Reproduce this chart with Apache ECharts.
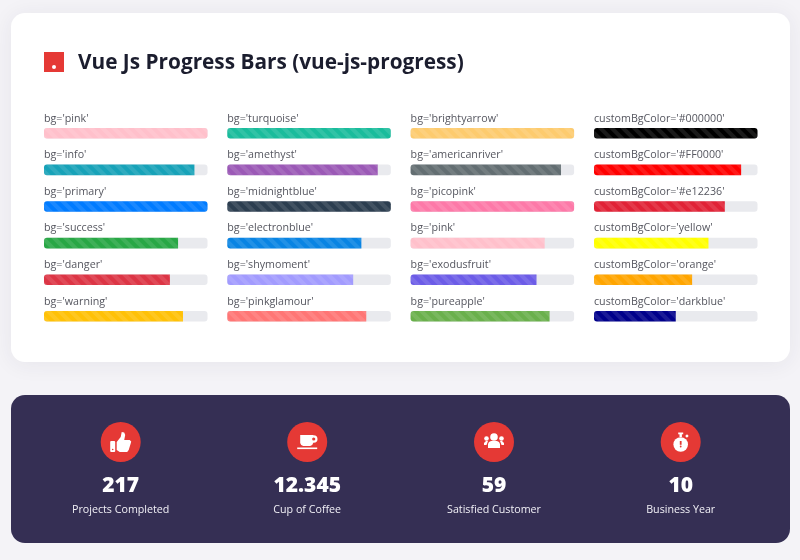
<!DOCTYPE html>
<html>
<head>
<meta charset="utf-8">
<style>
  html, body { margin: 0; padding: 0; background: #f4f3f7; }
  #main { width: 800px; height: 560px; }
</style>
<script src="https://cdn.jsdelivr.net/npm/echarts@6/dist/echarts.min.js"></script>
</head>
<body>
<div id="main"></div>
<script>
var titleText = 'Vue Js Progress Bars (vue-js-progress)';

var col1Labels = ["bg='pink'", "bg='info'", "bg='primary'", "bg='success'", "bg='danger'", "bg='warning'"];
var col1Values = [100, 92, 100, 82, 77, 85];
var col1Colors = ['#ffc0cb', '#17a2b8', '#007bff', '#28a745', '#dc3545', '#ffc107'];

var col2Labels = ["bg='turquoise'", "bg='amethyst'", "bg='midnightblue'", "bg='electronblue'", "bg='shymoment'", "bg='pinkglamour'"];
var col2Values = [100, 92, 100, 82, 77, 85];
var col2Colors = ['#1abc9c', '#9b59b6', '#2c3e50', '#0984e3', '#a29bfe', '#ff7675'];

var col3Labels = ["bg='brightyarrow'", "bg='americanriver'", "bg='picopink'", "bg='pink'", "bg='exodusfruit'", "bg='pureapple'"];
var col3Values = [100, 92, 100, 82, 77, 85];
var col3Colors = ['#fdcb6e', '#636e72', '#fd79a8', '#ffc0cb', '#6c5ce7', '#6ab04c'];

var col4Labels = ["customBgColor='#000000'", "customBgColor='#FF0000'", "customBgColor='#e12236'", "customBgColor='yellow'", "customBgColor='orange'", "customBgColor='darkblue'"];
var col4Values = [100, 90, 80, 70, 60, 50];
var col4Colors = ['#000000', '#ff0000', '#e12236', '#ffff00', '#ffa500', '#00008b'];

var statValues = ['217', '12.345', '59', '10'];
var statLabels = ['Projects Completed', 'Cup of Coffee', 'Satisfied Customer', 'Business Year'];

var FONT = '"Open Sans", sans-serif';
var RED = '#e53935';
var columns = [
  {left: 44, labels: col1Labels, values: col1Values, colors: col1Colors},
  {left: 227.3, labels: col2Labels, values: col2Values, colors: col2Colors},
  {left: 410.6, labels: col3Labels, values: col3Values, colors: col3Colors},
  {left: 594, labels: col4Labels, values: col4Values, colors: col4Colors}
];

var grids = [], xAxes = [], yAxes = [], series = [];
columns.forEach(function (col, i) {
  grids.push({left: col.left, top: 115, width: 163.5, height: 219.6});
  xAxes.push({type: 'value', gridIndex: i, min: 0, max: 100, show: false});
  yAxes.push({type: 'category', gridIndex: i, inverse: true, data: col.labels, show: false});
  series.push({
    type: 'bar',
    xAxisIndex: i,
    yAxisIndex: i,
    barWidth: 10.6,
    silent: true,
    showBackground: true,
    backgroundStyle: {color: '#e9eaee', borderRadius: 3},
    itemStyle: {
      decal: {
        symbol: 'rect',
        symbolSize: 1,
        dashArrayX: [1, 0],
        dashArrayY: [3.9, 3.9],
        rotation: Math.PI / 4,
        color: 'rgba(255,255,255,0.1)'
      }
    },
    label: {
      show: true,
      position: [0, -15],
      formatter: '{b}',
      fontFamily: FONT,
      fontSize: 10.7,
      color: '#55565f'
    },
    data: col.values.map(function (v, j) {
      return {
        value: v,
        itemStyle: {color: col.colors[j], borderRadius: v >= 100 ? 3 : [3, 0, 0, 3]}
      };
    })
  });
});

// white glyphs on the red circles, drawn around the circle centre
function poly(points) {
  return {type: 'polygon', shape: {points: points}, style: {fill: '#fff'}};
}
function glyphs(index) {
  var w = {fill: '#fff'};
  var r = {fill: RED};
  if (index === 0) {
    return [
      {type: 'rect', shape: {x: -10.5, y: -1, width: 5, height: 11, r: 1}, style: w},
      {type: 'circle', shape: {cx: -8, cy: 7.5, r: 0.8}, style: r, z: 4},
      poly([[-4, 0], [0, -5], [1, -10], [3.5, -9.5], [4.5, -7], [3.5, -2], [9, -2], [10.5, -0.5], [10, 1.5], [8, 8], [6.5, 10], [-1, 10], [-4, 8]])
    ];
  }
  if (index === 1) {
    return [
      poly([[-7, -7], [6, -7], [6, 1], [5, 3], [3, 4], [-4, 4], [-6, 3], [-7, 1]]),
      {type: 'circle', shape: {cx: 6.5, cy: -3, r: 3.8}, style: w},
      {type: 'circle', shape: {cx: 6.5, cy: -3, r: 1.6}, style: r, z: 4},
      {type: 'rect', shape: {x: -10, y: 5.5, width: 20, height: 1.6}, style: w}
    ];
  }
  if (index === 2) {
    return [
      {type: 'circle', shape: {cx: 0, cy: -5, r: 3.8}, style: w},
      {type: 'circle', shape: {cx: -7.5, cy: -3.5, r: 2.3}, style: w},
      {type: 'circle', shape: {cx: 7.5, cy: -3.5, r: 2.3}, style: w},
      poly([[-6, 6], [-6, 2], [-5, 0], [-3, -1], [3, -1], [5, 0], [6, 2], [6, 6]]),
      poly([[-10, 3], [-10, 1], [-8, -1], [-6, -1], [-7.5, 3]]),
      poly([[10, 3], [10, 1], [8, -1], [6, -1], [7.5, 3]])
    ];
  }
  return [
    {type: 'circle', shape: {cx: 0, cy: 2.5, r: 7.3}, style: w},
    {type: 'rect', shape: {x: -2.5, y: -9.5, width: 5, height: 1.8}, style: w},
    {type: 'rect', shape: {x: -1.2, y: -8.5, width: 2.4, height: 3.5}, style: w},
    poly([[4.5, -6], [6.3, -7.8], [8, -6], [6.2, -4.2]]),
    {type: 'rect', shape: {x: -0.9, y: -1, width: 1.8, height: 3.8}, style: r, z: 4},
    {type: 'circle', shape: {cx: 0, cy: 4.5, r: 0.9}, style: r, z: 4}
  ];
}

var statX = [120.7, 307.2, 494, 680.7];
var graphics = [
  {type: 'rect', shape: {x: 11, y: 13, width: 779, height: 349, r: 14}, style: {fill: '#fff', shadowBlur: 22, shadowColor: 'rgba(40,40,70,0.07)', shadowOffsetY: 2}, z: 0},
  {type: 'rect', shape: {x: 44, y: 52, width: 20, height: 20}, style: {fill: RED}, z: 1},
  {type: 'circle', shape: {cx: 54, cy: 67, r: 2}, style: {fill: '#fff'}, z: 2},
  {type: 'rect', shape: {x: 11, y: 395, width: 779, height: 148, r: 14}, style: {fill: '#352f54'}, z: 0}
];
statValues.forEach(function (val, i) {
  graphics.push({type: 'circle', shape: {cx: statX[i], cy: 442, r: 20}, style: {fill: RED}, z: 1});
  graphics.push({
    type: 'group',
    x: statX[i],
    y: 442,
    children: glyphs(i).map(function (g) { if (!g.z) g.z = 3; return g; })
  });
  graphics.push({type: 'text', x: statX[i], y: 486.5, z: 2, style: {text: val, fill: '#fff', font: '800 21px "Open Sans", sans-serif', textAlign: 'center', textVerticalAlign: 'middle'}});
  graphics.push({type: 'text', x: statX[i], y: 509.5, z: 2, style: {text: statLabels[i], fill: '#f1f0f6', font: '10.7px "Open Sans", sans-serif', textAlign: 'center', textVerticalAlign: 'middle'}});
});

var myChart = echarts.init(document.getElementById('main'));
var option = {
  animation: false,
  backgroundColor: '#f4f3f7',
  title: {
    text: titleText,
    left: 73,
    top: 48,
    textStyle: {fontFamily: FONT, fontSize: 20.8, fontWeight: 700, color: '#1b1d2e'}
  },
  grid: grids,
  xAxis: xAxes,
  yAxis: yAxes,
  series: series,
  graphic: {elements: graphics}
};
myChart.setOption(option);

window.addEventListener('resize', function () {
  myChart.resize();
});
</script>
</body>
</html>
